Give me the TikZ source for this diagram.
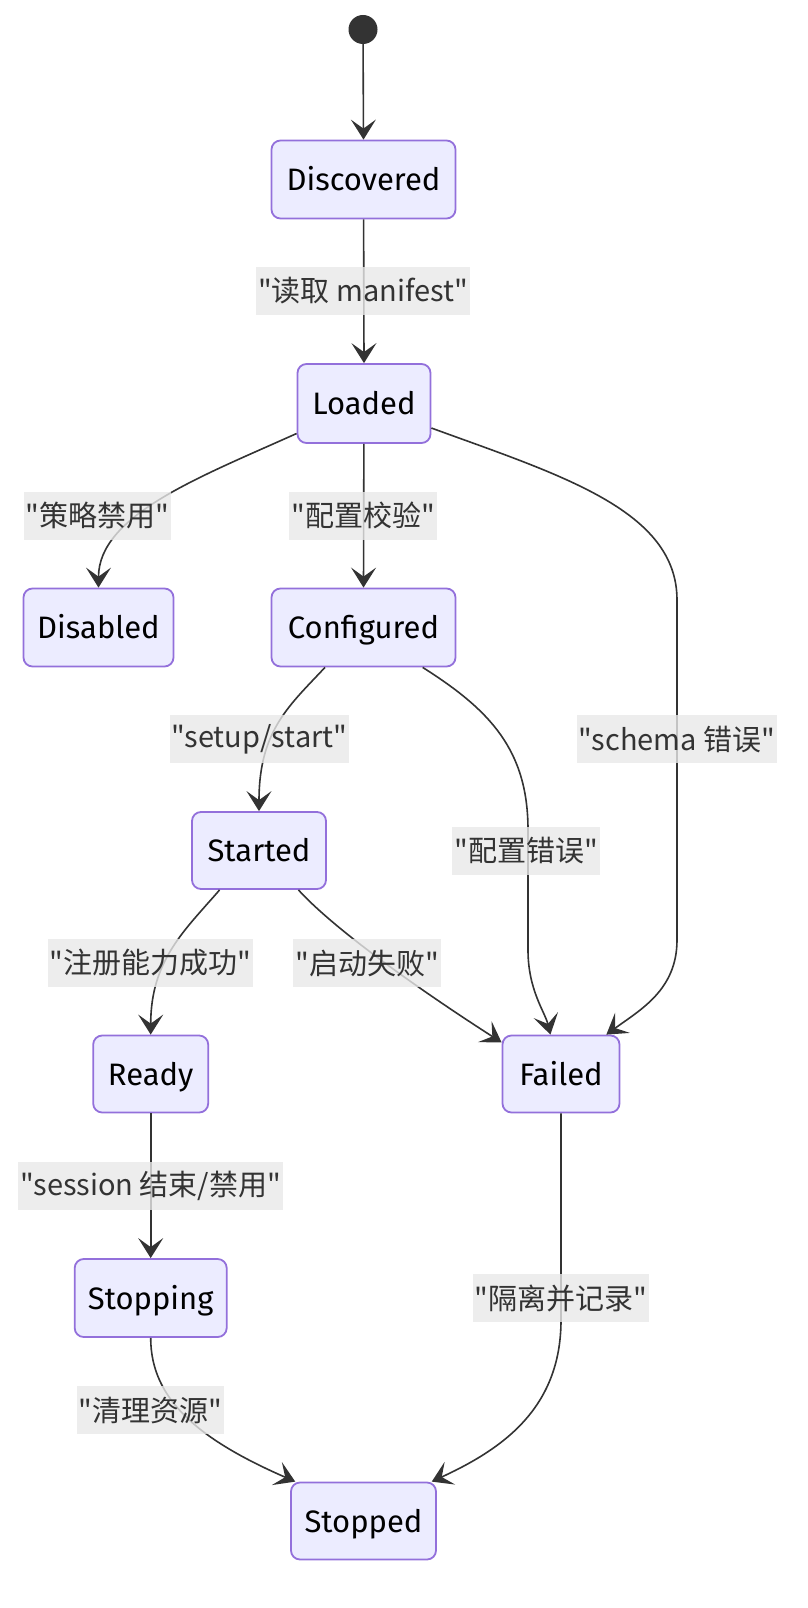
\documentclass[tikz,border=0pt]{standalone}
\usepackage{fontspec}
\setmainfont{Fira Sans}
\newfontfamily\cjk{Noto Sans CJK SC}
\usetikzlibrary{arrows.meta,calc}
\definecolor{nodefill}{HTML}{ECECFF}
\definecolor{nodeborder}{HTML}{9370DB}
\definecolor{edgecol}{HTML}{333333}
\definecolor{lblbg}{HTML}{E8E8E8}
\begin{document}
\begin{tikzpicture}[x=1pt,y=-1pt,
  state/.style={draw=nodeborder,fill=nodefill,line width=1.8pt,rounded corners=9pt,
    font=\fontsize{31}{36}\selectfont,text=black,inner sep=0pt,text height=22pt,text depth=0pt},
  lbl/.style={fill=lblbg,fill opacity=0.8,text opacity=1,text=edgecol,
    font=\cjk\fontsize{29}{34}\selectfont,inner xsep=2pt,inner ysep=0pt,minimum height=48pt},
  edge/.style={draw=edgecol,line width=1.6pt,-{Stealth[length=20pt,width=25pt,inset=9pt]}}]
\useasboundingbox (0,0) rectangle (808,1608);
% states
\node[circle,fill=edgecol,minimum size=29pt,inner sep=0pt] (init) at (363,29.5) {};
\node[state,minimum width=184pt,minimum height=78pt] (disc) at (363.5,179.5) {Discovered};
\node[state,minimum width=133pt,minimum height=79pt] (load) at (364,403.5) {Loaded};
\node[state,minimum width=150pt,minimum height=78pt] (dis) at (98.5,627.5) {Disabled};
\node[state,minimum width=184pt,minimum height=78pt] (conf) at (363.5,627.5) {Configured};
\node[state,minimum width=134pt,minimum height=77pt] (start) at (259,850.5) {Started};
\node[state,minimum width=115pt,minimum height=77pt] (ready) at (150.7,1074) {Ready};
\node[state,minimum width=117pt,minimum height=77pt] (fail) at (561,1074) {Failed};
\node[state,minimum width=152pt,minimum height=78pt] (stopping) at (150.7,1298) {Stopping};
\node[state,minimum width=145pt,minimum height=77pt] (stopped) at (363.5,1521) {Stopped};
% edges
\draw[edge] (init) -- (disc.north);
\draw[edge] (disc) -- (load.north);
\draw[edge] (load.204) .. controls (200,477) and (98.5,515) .. (dis.north);
\draw[edge] (load) -- (conf.north);
\draw[edge] (load.340) .. controls (560,475) and (677,510) .. (677,600) -- (677,940)
  .. controls (677,990) and (640,1010) .. (fail.41);
\draw[edge] (conf.226) .. controls (290,705) and (259,730) .. (start.north);
\draw[edge] (conf.326) .. controls (490,710) and (528,750) .. (528,830) -- (528,950)
  .. controls (528,990) and (545,1012) .. (fail.105);
\draw[edge] (start.225) .. controls (185,930) and (150.7,960) .. (ready.north);
\draw[edge] (start.315) .. controls (335,930) and (420,990) .. (fail.152);
\draw[edge] (ready) -- (stopping.north);
\draw[edge] (stopping.south) .. controls (150.7,1400) and (200,1440) .. (stopped.150);
\draw[edge] (fail.south) -- (561,1320) .. controls (561,1410) and (500,1450) .. (stopped.30);
% labels
\node[lbl] (l1) at (363,291) {"读取 manifest"};
\node[lbl] (l2) at (97.4,515.8) {"策略禁用"};
\node[lbl] (l3) at (363,515.8) {"配置校验"};
\node[lbl] (l4) at (259.4,739.3) {"setup/start"};
\node[lbl] (l5) at (676.8,739.3) {"schema 错误"};
\node[lbl] (l6) at (526,851) {"配置错误"};
\node[lbl] (l7) at (150.7,963) {"注册能力成功"};
\node[lbl] (l8) at (367,963) {"启动失败"};
\node[lbl] (l9) at (150.7,1186) {"session 结束/禁用"};
\node[lbl] (l10) at (561,1298) {"隔离并记录"};
\node[lbl] (l11) at (150.7,1410) {"清理资源"};
\end{tikzpicture}
\end{document}
